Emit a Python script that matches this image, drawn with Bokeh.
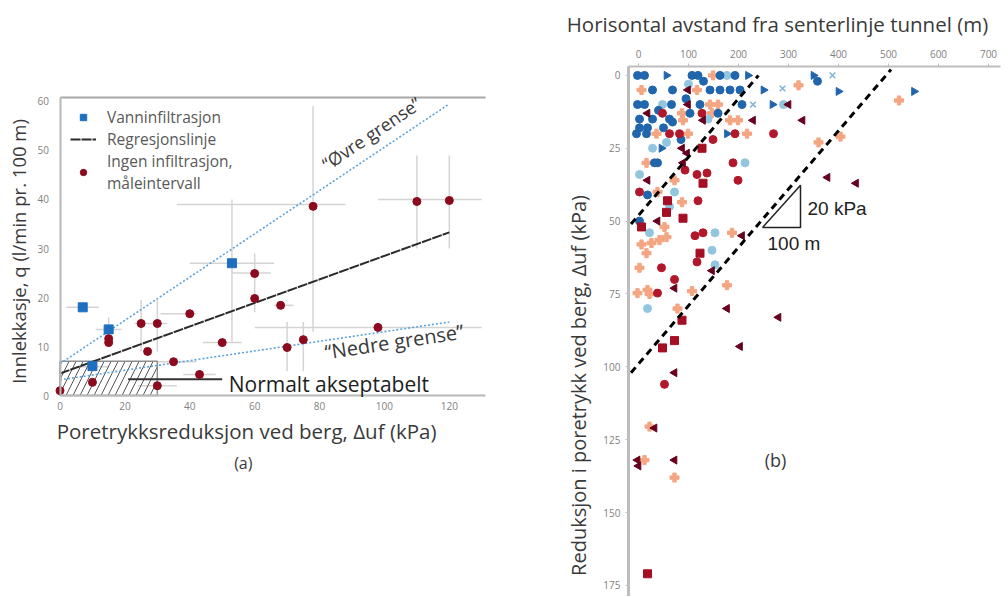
import math
from bokeh.plotting import figure
from bokeh.layouts import row
from bokeh.models import Range1d, Label, Legend, LegendItem, FixedTicker, LinearAxis
from bokeh.embed import file_html
from bokeh.resources import INLINE

FONT = "Open Sans"
TXT = "#3a3a3a"
TICK = "#7f7f7f"

# ---------------- Panel (a) data ----------------
a_xticks = [0, 20, 40, 60, 80, 100, 120]
a_yticks = [0, 10, 20, 30, 40, 50, 60]

inf_x = [7, 15, 10, 53]                       # Vanninfiltrasjon
inf_y = [18, 13.5, 6, 27]
noinf_x = [0, 10, 15, 15, 25, 30, 27, 30, 35, 40, 43, 50, 60, 60, 68, 70, 75, 78, 98, 110, 120]
noinf_y = [1, 2.7, 11.6, 10.8, 14.7, 14.7, 9, 2, 6.9, 16.7, 4.3, 10.8, 19.8, 24.9, 18.4, 9.8, 11.4, 38.6, 13.9, 39.6, 39.8]

# error intervals (horizontal: y, x0, x1 ; vertical: x, y0, y1)
eh_y = [18, 13.5, 27, 39, 40, 25, 18.4, 13.9, 14.7, 16.7, 10.8, 4.3, 2, 6.9, 5.9]
eh_x0 = [2, 11, 40, 36, 98, 53, 66, 60, 23, 31, 44, 38, 24, 30, 5]
eh_x1 = [12, 19, 66, 88, 130, 65, 72, 130, 33, 42, 56, 48, 36, 42, 15]
ev_x = [25, 30, 53, 78, 110, 120, 60, 70, 75, 15]
ev_y0 = [9, 9, 11, 13, 30, 30, 17, 5, 5, 10]
ev_y1 = [19.5, 19.5, 40, 59, 49, 49, 29, 15, 15, 16]

reg_x = [0, 120]
reg_y = [4.5, 33.3]
upper_x = [0, 120]
upper_y = [6.5, 59.5]
lower_x = [0, 120]
lower_y = [3.2, 15]

ok_left, ok_right, ok_bottom, ok_top = 0, 30, 0, 7
ok_ptr_x = [21, 50]
ok_ptr_y = [3.3, 3.3]

# ---------------- Panel (b) data ----------------
b_xticks = [0, 100, 200, 300, 400, 500, 600, 700]
b_yticks = [0, 25, 50, 75, 100, 125, 150, 175]

dblue_x = [-2, 12, 107, 119, 163, 193, 358, 28, 68, 143, 163, 183, 203, -2, 12, 66, 123, 207,
           103, 159, 2, 28, 62, 68, -4, 16, 2, 18, 38, 32, 18, 2, 40, 85, 50, 130, 95]
dblue_y = [0, 0, 0, 0, 0, 0, 2, 5, 5, 5, 5, 5, 5, 10, 10, 10, 10, 10,
           13, 13, 15, 15, 15, 16, 20, 20, 18, 18, 30, 30, 41, 50, 12, 22, 18, 2, 8]
dblue_tri_x = [56, 219, 250, 268, 400, 551, 177, 46, 350]
dblue_tri_y = [0, 0, 5, 10, 5.5, 5.5, 20, 25, 0]
lblue_x = [177, 48, 139, 290, 213, 56, 2, 72, 62, 22, 153, 147, 153, 18, 28, 100]
lblue_y = [0, 10, 15, 10, 30, 23, 34, 40, 45, 54, 54, 60, 65, 80, 25, 3]
lblue_x_x = [388, 288, 229]
lblue_x_y = [0, 4.5, 10]
salmon_x = [149, 6, 117, 320, 143, 159, 87, 147, 89, 183, 199, 36, 99, 217, 16, 72, 38, 87, 52, 56,
            16, 6, 26, 42, 187, 2, -2, 18, 22, 78, 107, 177, 521, 360, 404, 22, 12, 72]
salmon_y = [0, 5, 5, 3.4, 10, 10, 13, 13, 15.4, 15.4, 15.4, 20, 20, 20, 30, 36, 40, 43.5, 52, 55.5,
            61, 58, 57.5, 56.5, 54, 66, 74.7, 73.6, 75, 80, 74, 72, 8.6, 23, 21, 120.5, 132, 138]
red_x = [48, 127, 62, 82, 193, 270, 149, 189, 93, 117, 137, 199, 2, 119, 113, 129, 117, 46, 72, 38, 52]
red_y = [13, 13, 20, 20, 20, 20, 22, 30, 32.5, 34, 33.5, 36, 40, 43, 55, 54, 64, 66, 70, 74.7, 106]
red_sq_x = [127, 129, 58, 56, 89, 123, 72, 48, 87, 18, 6]
red_sq_y = [25, 37, 43, 47, 49, 61, 91, 93.5, 84, 171, 52]
maroon_x = [99, 99, 18, 129, 229, 328, 300, 89, 97, 18, 38, 147, 207, 72, 177, 203, 280, 378, 435,
            72, 32, -2, 72, 87, 0]
maroon_y = [5, 10, 13, 15.4, 15.4, 15.4, 10, 30, 26.7, 36, 50, 67, 55, 73, 80, 93, 83, 35, 37,
            102, 121, 132, 132, 25, 134]

line1_x = [-15, 240]
line1_y = [51, 0]
line2_x = [-15, 505]
line2_y = [102, -2]
tri_x = [248, 324, 324, 248]
tri_y = [52.2, 52.2, 37.7, 52.2]

# ================= Panel (a) =================
p1 = figure(width=540, height=596, min_border=0,
            x_range=Range1d(-18.34, 148.1), y_range=Range1d(-41.0, 80.6),
            output_backend="svg", toolbar_location=None, tools="")
p1.grid.visible = False
p1.outline_line_color = None
p1.background_fill_color = "white"

for ax in (p1.xaxis, p1.yaxis):
    ax.axis_line_color = "#b8b8b8"
    ax.axis_line_width = 2
    ax.major_tick_line_color = None
    ax.minor_tick_line_color = None
    ax.major_label_text_font = FONT
    ax.major_label_text_font_size = "10px"
    ax.major_label_text_color = TICK
    ax.fixed_location = 0
p1.xaxis.bounds = (0, 131)
p1.yaxis.bounds = (0, 60.8)
p1.xaxis.major_label_standoff = 0
p1.xaxis.ticker = FixedTicker(ticks=a_xticks)
p1.yaxis.ticker = FixedTicker(ticks=a_yticks)
top_ax = LinearAxis(axis_line_color="#a8a8a8", axis_line_width=2, major_tick_line_color=None,
                    minor_tick_line_color=None, major_label_text_font_size="0px",
                    fixed_location=60.8, bounds=(0, 131))
top_ax.ticker = FixedTicker(ticks=[])
p1.add_layout(top_ax, "above")

p1.segment(eh_x0, eh_y, eh_x1, eh_y, line_color="#d4d4d4", line_width=1.5)
p1.segment(ev_x, ev_y0, ev_x, ev_y1, line_color="#d4d4d4", line_width=1.5)

p1.quad(left=[ok_left], right=[ok_right], bottom=[ok_bottom], top=[ok_top], fill_alpha=0,
        line_color="#8c8c8c", line_width=1.5, hatch_pattern="/", hatch_color="#555555",
        hatch_scale=14, hatch_weight=1)
p1.line(ok_ptr_x, ok_ptr_y, line_color="#333333", line_width=2)

p1.line(upper_x, upper_y, line_color="#5ba3dc", line_width=1.6, line_dash="2 2")
p1.line(lower_x, lower_y, line_color="#5ba3dc", line_width=1.6, line_dash="2 2")
r_reg = p1.line(reg_x, reg_y, line_color="#2b2b2b", line_width=2, line_dash="10 1")

r_inf = p1.scatter(inf_x, inf_y, marker="square", size=9, fill_color="#1f6fc0", line_color="#1f6fc0")
r_no = p1.scatter(noinf_x, noinf_y, marker="circle", size=8, fill_color="#8b0a1e", line_color="#8b0a1e")

leg = Legend(items=[LegendItem(label="Vanninfiltrasjon", renderers=[r_inf]),
                    LegendItem(label="Regresjonslinje", renderers=[r_reg]),
                    LegendItem(label="Ingen infiltrasjon,\nmåleintervall", renderers=[r_no])],
             location=(70, 402), border_line_color=None, background_fill_alpha=0,
             label_text_font=FONT, label_text_font_size="15.5px", label_text_color="#595959",
             label_text_line_height=1.45, label_height=21,
             glyph_width=26, glyph_height=16, spacing=0, padding=4, margin=0, label_standoff=11)
p1.add_layout(leg)

p1.add_layout(Label(x=52, y=2.3, text="Normalt akseptabelt", text_font=FONT, text_font_size="21px",
                    text_color="#1e1e1e", text_align="left", text_baseline="middle"))
p1.add_layout(Label(x=96, y=53.5, text="“Øvre grense”", text_font=FONT, text_font_size="18px",
                    text_color=TXT, text_align="center", text_baseline="middle",
                    angle=math.radians(34)))
p1.add_layout(Label(x=103, y=11.0, text="“Nedre grense”", text_font=FONT, text_font_size="20px",
                    text_color=TXT, text_align="center", text_baseline="middle",
                    angle=math.radians(8.6)))
p1.add_layout(Label(x=-12.8, y=29.4, text="Innlekkasje, q (l/min pr. 100 m)", text_font=FONT,
                    text_font_size="18.5px", text_color=TXT, text_align="center",
                    text_baseline="middle", angle=math.pi / 2))
p1.add_layout(Label(x=57.5, y=-7.3, text="Poretrykksreduksjon ved berg, Δuf (kPa)", text_font=FONT,
                    text_font_size="20.5px", text_color=TXT, text_align="center",
                    text_baseline="middle"))
p1.add_layout(Label(x=56.5, y=-13.8, text="(a)", text_font=FONT, text_font_size="16px",
                    text_color=TXT, text_align="center", text_baseline="middle"))

# ================= Panel (b) =================
p2 = figure(width=467, height=596, min_border=0, x_axis_location="above",
            x_range=Range1d(-196, 738), y_range=Range1d(178.8, -25.7),
            output_backend="svg", toolbar_location=None, tools="")
p2.grid.visible = False
p2.outline_line_color = None
for ax in (p2.xaxis, p2.yaxis):
    ax.axis_line_color = "#bdbdbd"
    ax.major_tick_line_color = "#bdbdbd"
    ax.major_tick_out = 3
    ax.major_tick_in = 0
    ax.minor_tick_line_color = None
    ax.major_label_text_font = FONT
    ax.major_label_text_font_size = "10px"
    ax.major_label_text_color = TICK
p2.xaxis.axis_line_width = 2
p2.yaxis.axis_line_width = 3
p2.xaxis.fixed_location = -3.1
p2.xaxis.bounds = (-20, 724)
p2.yaxis.fixed_location = -20
p2.yaxis.bounds = (-3.1, 178.8)
p2.xaxis.ticker = FixedTicker(ticks=b_xticks)
p2.yaxis.ticker = FixedTicker(ticks=b_yticks)

S = 8
p2.scatter(salmon_x, salmon_y, marker="plus", size=S + 1, fill_color="#f4a582", line_color="#f4a582")
p2.scatter(lblue_x, lblue_y, marker="circle", size=S, fill_color="#92c5de", line_color="#92c5de")
p2.scatter(lblue_x_x, lblue_x_y, marker="x", size=S, line_color="#7fb4d6", line_width=1.5)
p2.scatter(dblue_x, dblue_y, marker="circle", size=S, fill_color="#2166ac", line_color="#2166ac")
p2.scatter(dblue_tri_x, dblue_tri_y, marker="triangle", angle=-math.pi / 2, size=S,
           fill_color="#2166ac", line_color="#2166ac")
p2.scatter(red_x, red_y, marker="circle", size=S, fill_color="#b2182b", line_color="#b2182b")
p2.scatter(red_sq_x, red_sq_y, marker="square", size=S, fill_color="#a50f24", line_color="#a50f24")
p2.scatter(maroon_x, maroon_y, marker="triangle", angle=math.pi / 2, size=S,
           fill_color="#67001f", line_color="#67001f")

p2.line(line1_x, line1_y, line_color="black", line_width=3, line_dash="7 5")
p2.line(line2_x, line2_y, line_color="black", line_width=3, line_dash="7 5")
p2.line(tri_x, tri_y, line_color="#222222", line_width=1.5)

p2.add_layout(Label(x=338, y=45.6, text="20 kPa", text_font="Liberation Sans", text_font_size="19px",
                    text_color="#222222", text_align="left", text_baseline="middle"))
p2.add_layout(Label(x=258, y=57.7, text="100 m", text_font="Liberation Sans", text_font_size="19px",
                    text_color="#222222", text_align="left", text_baseline="middle"))
p2.add_layout(Label(x=274, y=132, text="(b)", text_font=FONT, text_font_size="18px",
                    text_color=TXT, text_align="center", text_baseline="middle"))
p2.add_layout(Label(x=278, y=-17.8, text="Horisontal avstand fra senterlinje tunnel (m)",
                    text_font=FONT, text_font_size="20.5px", text_color=TXT, text_align="center",
                    text_baseline="middle"))
p2.add_layout(Label(x=-120, y=106.4, text="Reduksjon i poretrykk ved berg, Δuf (kPa)",
                    text_font=FONT, text_font_size="20px", text_color=TXT, text_align="center",
                    text_baseline="middle", angle=math.pi / 2))

layout = row(p1, p2)
open("out.html", "w").write(file_html(layout, INLINE))
